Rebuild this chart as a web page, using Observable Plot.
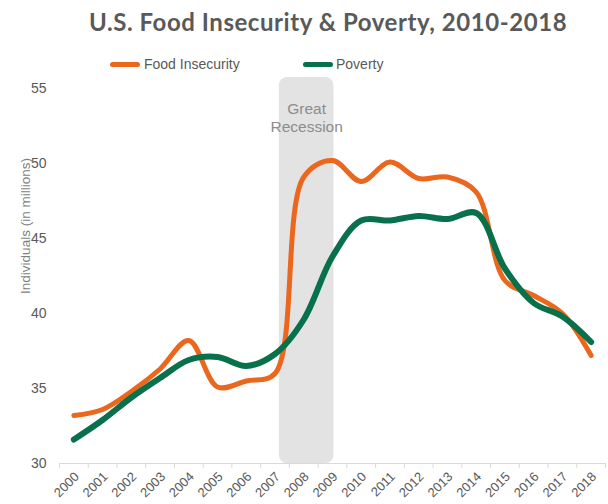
<!DOCTYPE html>
<html>
<head>
<meta charset="utf-8">
<script src="https://cdn.jsdelivr.net/npm/d3@7"></script>
<script src="https://cdn.jsdelivr.net/npm/@observablehq/plot@0.6"></script>
<style>
  html, body { margin: 0; padding: 0; background: #ffffff; }
  #wrap { position: relative; width: 608px; height: 504px; overflow: hidden; background: #fff; }
  #title { position: absolute; left: 89px; top: 10px; font-family: Lato, "Open Sans", sans-serif; font-weight: 700; font-size: 24px; line-height: 24px; letter-spacing: 0.55px; color: #595959; white-space: nowrap; }
  .lg { position: absolute; font-family: "Liberation Sans", Arial, sans-serif; font-size: 14px; line-height: 14px; color: #595959; white-space: nowrap; }
  .sw { position: absolute; height: 5px; border-radius: 3px; }
  #chart { position: absolute; left: 0; top: 70px; }
</style>
</head>
<body>
<div id="wrap">
  <div id="title">U.S. Food Insecurity &amp; Poverty, 2010-2018</div>
  <div id="legend"></div>
  <div id="chart"></div>
</div>
<script>
// ---- data ----
const years = [2000, 2001, 2002, 2003, 2004, 2005, 2006, 2007, 2008, 2009,
               2010, 2011, 2012, 2013, 2014, 2015, 2016, 2017, 2018];
const foodInsecurity = [33.2, 33.6, 34.8, 36.3, 38.2, 35.1, 35.5, 36.0, 49.1, 50.2,
                        48.8, 50.1, 49.0, 49.1, 48.1, 42.2, 41.2, 40.0, 37.2];
const poverty = [31.6, 32.9, 34.4, 35.7, 36.9, 37.1, 36.5, 37.3, 39.6, 43.8,
                 46.2, 46.2, 46.5, 46.3, 46.7, 43.0, 40.7, 39.8, 38.1];
const seriesNames = ["Food Insecurity", "Poverty"];
const seriesColors = ["#EA671D", "#08704A"];
const yTicks = [30, 35, 40, 45, 50, 55];
const recession = [{start: 2007.15, end: 2009.05, label: "Great\nRecession"}];
const yLabel = "Individuals (in millions)";

// ---- legend ----
const legend = document.getElementById("legend");
const legendPos = [{sw: 110, tx: 144}, {sw: 303, tx: 336}];
seriesNames.forEach((name, i) => {
  const sw = document.createElement("div");
  sw.className = "sw";
  sw.style.left = legendPos[i].sw + "px";
  sw.style.top = "62px";
  sw.style.width = "30px";
  sw.style.background = seriesColors[i];
  legend.appendChild(sw);
  const tx = document.createElement("div");
  tx.className = "lg";
  tx.style.left = legendPos[i].tx + "px";
  tx.style.top = "57px";
  tx.textContent = name;
  legend.appendChild(tx);
});

// ---- chart ----
const rows = [];
years.forEach((yr, i) => {
  rows.push({year: yr, value: foodInsecurity[i], series: seriesNames[0]});
  rows.push({year: yr, value: poverty[i], series: seriesNames[1]});
});
const boundaries = years.map(y => y - 0.5).concat([years[years.length - 1] + 0.5]);

const chart = Plot.plot({
  width: 608,
  height: 434,
  marginLeft: 59,
  marginRight: 3,
  marginTop: 18,
  marginBottom: 41,
  x: {domain: [boundaries[0], boundaries[boundaries.length - 1]]},
  y: {domain: [30, 55]},
  style: {fontFamily: "'Liberation Sans', Arial, sans-serif", color: "#595959", background: "transparent"},
  marks: [
    Plot.rect(recession, {x1: "start", x2: "end", y1: 30, y2: 55.73, fill: "#e3e3e3", rx: 8}),
    Plot.ruleY([30], {stroke: "#d9d9d9", strokeWidth: 1}),
    Plot.axisX({ticks: boundaries, tickSize: 5, tickFormat: () => "", stroke: "#d9d9d9", label: null}),
    Plot.axisX({ticks: years, tickSize: 0, tickPadding: 10, tickRotate: -45, tickFormat: d => String(d),
                fontSize: 13, fill: "#595959", label: null, dy: 1, dx: 3}),
    Plot.axisY({ticks: yTicks, tickSize: 0, tickPadding: 13, fontSize: 14, fill: "#595959", label: null}),
    Plot.text([yLabel], {frameAnchor: "left", textAnchor: "middle", dx: -34, dy: -50, rotate: -90,
                         fontSize: 13.5, fill: "#7f7f7f"}),
    Plot.text(recession, {x: d => (d.start + d.end) / 2, y: 53.07, text: "label", fontSize: 15.5,
                          fill: "#8c8c8c", lineHeight: 1.15}),
    Plot.line(rows.filter(d => d.series === seriesNames[0]), {x: "year", y: "value", stroke: seriesColors[0],
              strokeWidth: 5, curve: "catmull-rom", strokeLinecap: "round", strokeLinejoin: "round"}),
    Plot.line(rows.filter(d => d.series === seriesNames[1]), {x: "year", y: "value", stroke: seriesColors[1],
              strokeWidth: 6, curve: "catmull-rom", strokeLinecap: "round", strokeLinejoin: "round"})
  ]
});
document.getElementById("chart").appendChild(chart);
</script>
</body>
</html>
